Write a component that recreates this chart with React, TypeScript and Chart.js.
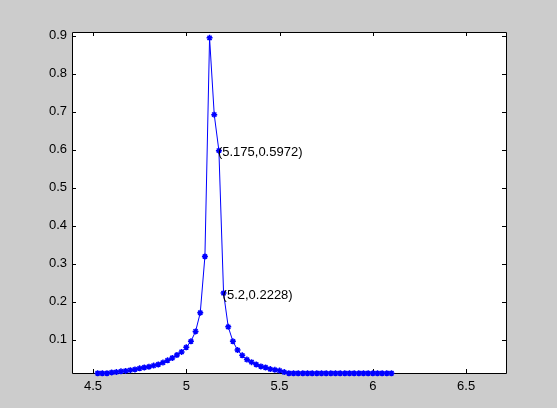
import React, { useEffect, useRef } from "react";
import { Chart, registerables } from "chart.js";

Chart.register(...registerables);

const xValues = [
  4.525, 4.55, 4.575, 4.6, 4.625, 4.65, 4.675, 4.7, 4.725, 4.75, 4.775, 4.8,
  4.825, 4.85, 4.875, 4.9, 4.925, 4.95, 4.975, 5.0, 5.025, 5.05, 5.075, 5.1,
  5.125, 5.15, 5.175, 5.2, 5.225, 5.25, 5.275, 5.3, 5.325, 5.35, 5.375, 5.4,
  5.425, 5.45, 5.475, 5.5, 5.525, 5.55, 5.575, 5.6, 5.625, 5.65, 5.675, 5.7,
  5.725, 5.75, 5.775, 5.8, 5.825, 5.85, 5.875, 5.9, 5.925, 5.95, 5.975, 6.0,
  6.025, 6.05, 6.075, 6.1,
];
const yValues = [
  0.012, 0.012, 0.012, 0.014, 0.015, 0.017, 0.018, 0.02, 0.022, 0.025, 0.027,
  0.029, 0.032, 0.035, 0.04, 0.046, 0.052, 0.06, 0.068, 0.08, 0.096, 0.122,
  0.171, 0.319, 0.894, 0.692, 0.5972, 0.2228, 0.134, 0.096, 0.073, 0.059,
  0.048, 0.041, 0.035, 0.03, 0.027, 0.023, 0.021, 0.019, 0.015, 0.012, 0.012,
  0.012, 0.012, 0.012, 0.012, 0.012, 0.012, 0.012, 0.012, 0.012, 0.012, 0.012,
  0.012, 0.012, 0.012, 0.012, 0.012, 0.012, 0.012, 0.012, 0.012, 0.012,
];
const xTicks = [4.5, 5, 5.5, 6, 6.5];
const yTicks = [0.1, 0.2, 0.3, 0.4, 0.5, 0.6, 0.7, 0.8, 0.9];
const xRange = [4.3875, 6.714];
const yRange = [0.0126, 0.9094];
const tipX = [5.175, 5.2];
const tipY = [0.5972, 0.2228];
const tipLabels = ["(5.175,0.5972)", "(5.2,0.2228)"];

const FONT = '"Liberation Sans", Arial, Helvetica, sans-serif';

const matlabFrame = {
  id: "matlabFrame",
  beforeDraw(chart: any) {
    const { ctx, chartArea: a } = chart;
    ctx.save();
    ctx.fillStyle = "#ffffff";
    ctx.fillRect(a.left, a.top, a.right - a.left, a.bottom - a.top);
    ctx.restore();
  },
  beforeDatasetsDraw(chart: any) {
    const { ctx, chartArea: a } = chart;
    const xs = chart.scales.x;
    const ys = chart.scales.y;
    const tl = 4;
    ctx.save();
    ctx.strokeStyle = "#000000";
    ctx.lineWidth = 1;
    ctx.beginPath();
    ctx.rect(a.left + 0.5, a.top + 0.5, a.right - a.left, a.bottom - a.top);
    for (const v of xTicks) {
      const px = Math.round(xs.getPixelForValue(v)) + 0.5;
      ctx.moveTo(px, a.bottom);
      ctx.lineTo(px, a.bottom - tl);
      ctx.moveTo(px, a.top);
      ctx.lineTo(px, a.top + tl);
    }
    for (const v of yTicks) {
      const py = Math.round(ys.getPixelForValue(v)) + 0.5;
      ctx.moveTo(a.left, py);
      ctx.lineTo(a.left + tl, py);
      ctx.moveTo(a.right, py);
      ctx.lineTo(a.right - tl, py);
    }
    ctx.stroke();
    ctx.restore();
  },
  afterDraw(chart: any) {
    const { ctx } = chart;
    const xs = chart.scales.x;
    const ys = chart.scales.y;
    ctx.save();
    ctx.fillStyle = "#000000";
    ctx.font = `13px ${FONT}`;
    ctx.textAlign = "left";
    ctx.textBaseline = "middle";
    tipLabels.forEach((t, i) => {
      const px = xs.getPixelForValue(tipX[i]);
      const py = ys.getPixelForValue(tipY[i]);
      ctx.fillText(t, px - 1, py + 2);
    });
    ctx.restore();
  },
};

export default function App() {
  const ref = useRef<HTMLCanvasElement | null>(null);
  useEffect(() => {
    if (!ref.current) return;
    const chart = new Chart(ref.current, {
      type: "line",
      data: {
        datasets: [
          {
            data: xValues.map((x, i) => ({ x, y: yValues[i] })),
            borderColor: "#0000ff",
            backgroundColor: "#0000ff",
            borderWidth: 1,
            pointStyle: "star",
            pointRadius: 3,
            pointBorderWidth: 1.5,
            pointBorderColor: "#0000ff",
            pointBackgroundColor: "#0000ff",
            tension: 0,
            fill: false,
            clip: false as any,
          },
        ],
      },
      options: {
        animation: false,
        responsive: false,
        devicePixelRatio: 1,
        layout: { padding: { left: 0, top: 32, right: 51, bottom: 0 } },
        plugins: { legend: { display: false }, tooltip: { enabled: false } },
        scales: {
          x: {
            type: "linear",
            min: xRange[0],
            max: xRange[1],
            grid: { display: false, drawTicks: false },
            border: { display: false },
            afterBuildTicks: (s: any) => {
              s.ticks = xTicks.map((v) => ({ value: v }));
            },
            afterFit: (s: any) => {
              s.height = 35;
            },
            ticks: {
              color: "#000000",
              font: { family: FONT, size: 13 },
              padding: 6,
              maxRotation: 0,
              autoSkip: false,
              callback: (v: any) => String(v),
            },
          },
          y: {
            type: "linear",
            min: yRange[0],
            max: yRange[1],
            grid: { display: false, drawTicks: false },
            border: { display: false },
            afterBuildTicks: (s: any) => {
              s.ticks = yTicks.map((v) => ({ value: v }));
            },
            afterFit: (s: any) => {
              s.width = 72;
            },
            ticks: {
              color: "#000000",
              font: { family: FONT, size: 13 },
              padding: 5,
              autoSkip: false,
              callback: (v: any) => String(v),
            },
          },
        },
      },
      plugins: [matlabFrame],
    });
    return () => chart.destroy();
  }, []);
  return (
    <div
      style={{
        position: "fixed",
        left: 0,
        top: 0,
        width: 557,
        height: 408,
        background: "#cccccc",
      }}
    >
      <canvas ref={ref} width={557} height={408} style={{ display: "block" }} />
    </div>
  );
}
